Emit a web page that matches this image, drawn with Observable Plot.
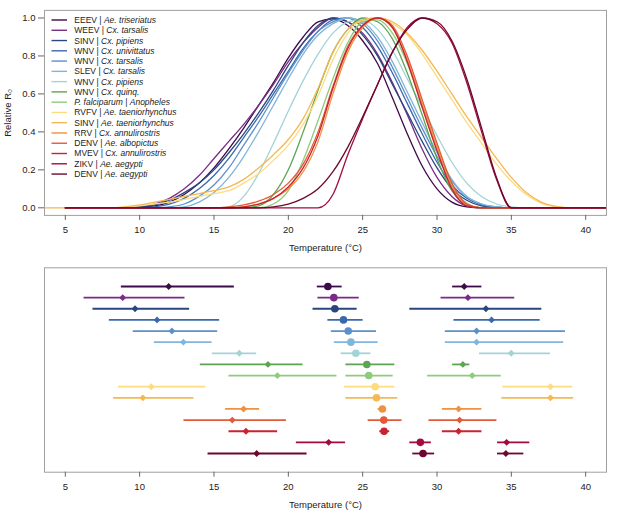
<!DOCTYPE html>
<html><head><meta charset="utf-8">
<script src="https://cdn.jsdelivr.net/npm/d3@7"></script>
<script src="https://cdn.jsdelivr.net/npm/@observablehq/plot@0.6"></script>
<style>
body{margin:0;background:#fff;font-family:"Liberation Sans",Arial,Helvetica,sans-serif;}
#wrap{position:relative;width:617px;}
#wrap svg{display:block;}
#legend{position:absolute;left:0;top:0;pointer-events:none;}
</style></head><body><div id="wrap"></div>
<script>
// ---- Legend / series identity ----
const pathogens = ["EEEV","WEEV","SINV","WNV","WNV","SLEV","WNV","WNV","P. falciparum","RVFV","SINV","RRV","DENV","MVEV","ZIKV","DENV"];
const pathogenItalic = [false,false,false,false,false,false,false,false,true,false,false,false,false,false,false,false];
const vectors = ["Ae. triseriatus","Cx. tarsalis","Cx. pipiens","Cx. univittatus","Cx. tarsalis","Cx. tarsalis","Cx. pipiens","Cx. quinq.","Anopheles","Ae. taeniorhynchus","Ae. taeniorhynchus","Cx. annulirostris","Ae. albopictus","Cx. annulirostris","Ae. aegypti","Ae. aegypti"];
const colors = ["#3d0b49","#7a2b87","#2a467e","#3968ae","#5c90c9","#80b5dc","#a3d3d6","#5ea553","#8fcb7c","#fbdc80","#f5b854","#ef9141","#e25a37","#c9232f","#a30b3d","#6b0730"];

// ---- Top panel: relative R0 curves, sampled each 1 °C ----
const temps = [3,4,5,6,7,8,9,10,11,12,13,14,15,16,17,18,19,20,21,22,23,24,25,26,27,28,29,30,31,32,33,34,35,36,37,38,39,40,41,42];
const r0_EEEV   = [0,0,0,0,0,0,0,0.005,0.01,0.03,0.07,0.13,0.21,0.31,0.42,0.54,0.66,0.79,0.9,0.98,0.995,0.96,0.88,0.76,0.58,0.39,0.22,0.1,0.03,0.005,0,0,0,0,0,0,0,0,0,0];
const r0_WEEV   = [0,0,0,0,0,0,0,0.005,0.02,0.05,0.1,0.17,0.26,0.35,0.44,0.54,0.65,0.77,0.87,0.95,1.0,0.98,0.92,0.81,0.66,0.49,0.31,0.16,0.06,0.01,0,0,0,0,0,0,0,0,0,0];
const r0_SINVp  = [0,0,0,0,0,0,0,0.005,0.015,0.04,0.08,0.13,0.2,0.29,0.39,0.5,0.62,0.75,0.87,0.96,1.0,0.98,0.91,0.8,0.65,0.5,0.35,0.21,0.1,0.04,0.01,0.002,0,0,0,0,0,0,0,0];
const r0_WNVu   = [0,0,0,0,0,0,0,0,0.005,0.02,0.05,0.1,0.17,0.26,0.37,0.48,0.6,0.72,0.84,0.93,0.99,1.0,0.95,0.85,0.71,0.55,0.39,0.24,0.12,0.05,0.015,0.003,0,0,0,0,0,0,0,0];
const r0_WNVt   = [0,0,0,0,0,0,0,0,0,0.005,0.02,0.06,0.12,0.21,0.33,0.45,0.58,0.71,0.83,0.93,0.98,1.0,0.97,0.88,0.74,0.58,0.42,0.27,0.14,0.06,0.02,0.005,0,0,0,0,0,0,0,0];
const r0_SLEV   = [0,0,0,0,0,0,0,0,0,0,0.005,0.03,0.08,0.16,0.27,0.4,0.54,0.68,0.81,0.91,0.97,1.0,0.98,0.9,0.77,0.61,0.45,0.29,0.15,0.06,0.02,0.005,0,0,0,0,0,0,0,0];
const r0_WNVp   = [0,0,0,0,0,0,0,0,0,0,0,0,0,0.005,0.06,0.18,0.34,0.51,0.67,0.81,0.92,0.98,0.99,0.94,0.83,0.68,0.53,0.38,0.24,0.13,0.06,0.02,0.005,0,0,0,0,0,0,0];
const r0_WNVq   = [0,0,0,0,0,0,0,0,0,0,0,0,0,0,0,0.01,0.07,0.2,0.4,0.62,0.82,0.94,1.0,0.98,0.89,0.71,0.49,0.26,0.09,0.015,0,0,0,0,0,0,0,0,0,0];
const r0_Pf     = [0,0,0,0,0,0,0,0,0,0,0,0,0,0,0,0,0.02,0.09,0.25,0.46,0.68,0.87,0.98,0.99,0.92,0.76,0.54,0.31,0.12,0.025,0,0,0,0,0,0,0,0,0,0];
const r0_RVFV   = [0,0,0,0,0,0,0.003,0.01,0.02,0.03,0.045,0.06,0.075,0.09,0.13,0.18,0.25,0.33,0.44,0.59,0.78,0.92,0.99,1.0,0.97,0.91,0.81,0.69,0.57,0.45,0.34,0.23,0.14,0.07,0.025,0.005,0,0,0,0];
const r0_SINVt  = [0,0,0,0,0,0,0.005,0.015,0.03,0.045,0.06,0.075,0.09,0.11,0.15,0.21,0.28,0.36,0.47,0.63,0.82,0.94,0.99,1.0,0.98,0.92,0.83,0.72,0.6,0.48,0.37,0.26,0.16,0.08,0.03,0.007,0,0,0,0];
const r0_RRV    = [0,0,0,0,0,0,0,0,0,0,0,0,0,0,0.005,0.02,0.05,0.1,0.19,0.35,0.6,0.82,0.95,1.0,0.95,0.78,0.55,0.32,0.11,0.015,0,0,0,0,0,0,0,0,0,0];
const r0_DENVal = [0,0,0,0,0,0,0,0,0,0,0,0,0,0.005,0.015,0.035,0.07,0.13,0.23,0.4,0.64,0.85,0.96,1.0,0.96,0.8,0.57,0.34,0.13,0.02,0,0,0,0,0,0,0,0,0,0];
const r0_MVEV   = [0,0,0,0,0,0,0,0,0,0,0,0,0,0,0.005,0.02,0.05,0.11,0.21,0.38,0.63,0.84,0.96,1.0,0.95,0.77,0.53,0.3,0.1,0.01,0,0,0,0,0,0,0,0,0,0];
const r0_ZIKV   = [0,0,0,0,0,0,0,0,0,0,0,0,0,0,0,0,0,0,0,0,0.07,0.28,0.47,0.65,0.82,0.95,1.0,0.97,0.87,0.66,0.4,0.15,0,0,0,0,0,0,0,0];
const r0_DENVae = [0,0,0,0,0,0,0,0,0,0,0,0,0,0,0,0,0.005,0.02,0.05,0.1,0.19,0.32,0.48,0.65,0.82,0.94,1.0,0.98,0.88,0.68,0.42,0.16,0,0,0,0,0,0,0,0];
const r0Curves = [r0_EEEV,r0_WEEV,r0_SINVp,r0_WNVu,r0_WNVt,r0_SLEV,r0_WNVp,r0_WNVq,r0_Pf,r0_RVFV,r0_SINVt,r0_RRV,r0_DENVal,r0_MVEV,r0_ZIKV,r0_DENVae];
const curveStart = [5,5,5,5,5,5,5,5,5,5,3,5,5,5,5,5];

// ---- Bottom panel: thermal limits (median and 95% CI) ----
const ctminMed = [11.95,8.86,9.69,11.17,12.17,12.94,16.70,18.63,19.26,10.78,10.22,16.99,16.23,17.15,22.71,17.87];
const ctminLo  = [8.77,6.26,6.86,7.96,9.57,10.99,14.89,14.08,16.01,8.57,8.25,15.78,12.98,16.01,20.54,14.60];
const ctminHi  = [16.37,13.05,13.36,15.38,15.25,14.87,17.87,20.99,23.27,14.44,13.65,18.07,19.87,19.28,23.85,21.26];
const toptMed  = [22.66,23.06,23.13,23.71,24.03,24.21,24.54,25.28,25.41,25.84,25.93,26.33,26.42,26.44,28.88,29.06];
const toptLo   = [21.95,21.99,21.66,22.66,22.89,23.09,23.56,23.87,23.87,23.78,23.87,26.04,25.37,26.15,28.17,28.37];
const toptHi   = [23.62,24.77,24.63,25.03,25.93,26.04,25.55,27.16,27.05,27.16,27.36,26.60,27.65,26.82,29.62,29.84];
const ctmaxMed = [31.83,32.08,33.29,33.67,32.66,32.66,34.99,31.74,32.37,37.63,37.63,31.45,31.52,31.45,34.68,34.63];
const ctmaxLo  = [31.05,30.27,28.17,31.14,30.56,30.56,32.86,31.05,29.37,34.43,34.36,30.36,29.46,30.36,34.07,34.07];
const ctmaxHi  = [33.02,35.23,37.05,36.94,38.64,38.52,37.63,32.21,34.32,39.13,39.19,33.02,34.03,33.02,36.24,35.84];

const xTicks = [5,10,15,20,25,30,35,40];
const yTicks = [0,0.2,0.4,0.6,0.8,1.0];

// ---- build tables ----
const curveRows = [];
r0Curves.forEach((arr, k) => arr.forEach((v, j) => {
  if (temps[j] >= curveStart[k]) curveRows.push({k, T: temps[j], R: v});
}));
const rows = pathogens.map((p, k) => ({
  k, row: k + 1,
  ctmin: ctminMed[k], ctminLo: ctminLo[k], ctminHi: ctminHi[k],
  topt: toptMed[k], toptLo: toptLo[k], toptHi: toptHi[k],
  ctmax: ctmaxMed[k], ctmaxLo: ctmaxLo[k], ctmaxHi: ctmaxHi[k]
}));
const idx = colors.map((c, i) => i);
const colorScale = {type: "ordinal", domain: idx, range: colors};
const font = "'Liberation Sans', Arial, Helvetica, sans-serif";

const topPlot = Plot.plot({
  width: 617, height: 262,
  marginLeft: 44, marginRight: 11, marginTop: 9.9, marginBottom: 47.1,
  x: {domain: [3.6, 41.4]},
  y: {domain: [-0.04, 1.04]},
  color: colorScale,
  style: {fontFamily: font, fontSize: "9.5px", color: "#222", background: "#fff"},
  marks: [
    Plot.line(curveRows, {x: "T", y: "R", z: "k", stroke: "k", strokeWidth: 1.3, curve: "monotone-x", clip: true}),
    Plot.frame({stroke: "#a0a0a0", strokeWidth: 1}),
    Plot.axisX({ticks: xTicks, tickSize: 5, tickPadding: 6, stroke: "#666",
      label: "Temperature (°C)", labelAnchor: "center", labelArrow: "none", labelOffset: 36}),
    Plot.axisY({ticks: yTicks, tickFormat: d3.format(".1f"), tickSize: 6, tickPadding: 3, stroke: "#666",
      label: "Relative R\u2080", labelAnchor: "center", labelArrow: "none", labelOffset: 40})
  ]
});

const bottomPlot = Plot.plot({
  width: 617, height: 252,
  marginLeft: 44, marginRight: 11, marginTop: 5.3, marginBottom: 42.3,
  x: {domain: [3.6, 41.4]},
  y: {domain: [-0.68, 17.68], reverse: true, axis: null},
  color: colorScale,
  style: {fontFamily: font, fontSize: "9.5px", color: "#222", background: "#fff"},
  marks: [
    Plot.frame({stroke: "#a0a0a0", strokeWidth: 1}),
    Plot.ruleY(rows, {y: "row", x1: "ctminLo", x2: "ctminHi", stroke: "k", strokeWidth: 1.8}),
    Plot.ruleY(rows, {y: "row", x1: "toptLo", x2: "toptHi", stroke: "k", strokeWidth: 1.8}),
    Plot.ruleY(rows, {y: "row", x1: "ctmaxLo", x2: "ctmaxHi", stroke: "k", strokeWidth: 1.8}),
    Plot.dot(rows, {x: "ctmin", y: "row", symbol: "diamond2", r: 3.1, fill: "k", stroke: null}),
    Plot.dot(rows, {x: "topt", y: "row", r: 3.8, fill: "k", stroke: null}),
    Plot.dot(rows, {x: "ctmax", y: "row", symbol: "diamond2", r: 3.1, fill: "k", stroke: null}),
    Plot.axisX({ticks: xTicks, tickSize: 5, tickPadding: 6, stroke: "#666",
      label: "Temperature (°C)", labelAnchor: "center", labelArrow: "none", labelOffset: 36})
  ]
});

const wrap = document.getElementById("wrap");
wrap.appendChild(topPlot);
wrap.appendChild(bottomPlot);

// ---- legend inside the top panel ----
const leg = d3.select(wrap).append("svg").attr("id", "legend")
  .attr("width", 260).attr("height", 185)
  .style("font-family", font).style("font-size", "8.5px");
const g = leg.selectAll("g").data(idx).join("g")
  .attr("transform", i => `translate(0,${20 + i * 10.27})`);
g.append("line").attr("x1", 51.5).attr("x2", 67).attr("y1", 0).attr("y2", 0)
  .attr("stroke", i => colors[i]).attr("stroke-width", 1.4);
const t = g.append("text").attr("x", 74.3).attr("y", 0).attr("dy", "0.35em").attr("fill", "#222");
t.append("tspan").style("font-style", i => pathogenItalic[i] ? "italic" : "normal").text(i => pathogens[i]);
t.append("tspan").text(" | ");
t.append("tspan").style("font-style", "italic").text(i => vectors[i]);
</script></body></html>
